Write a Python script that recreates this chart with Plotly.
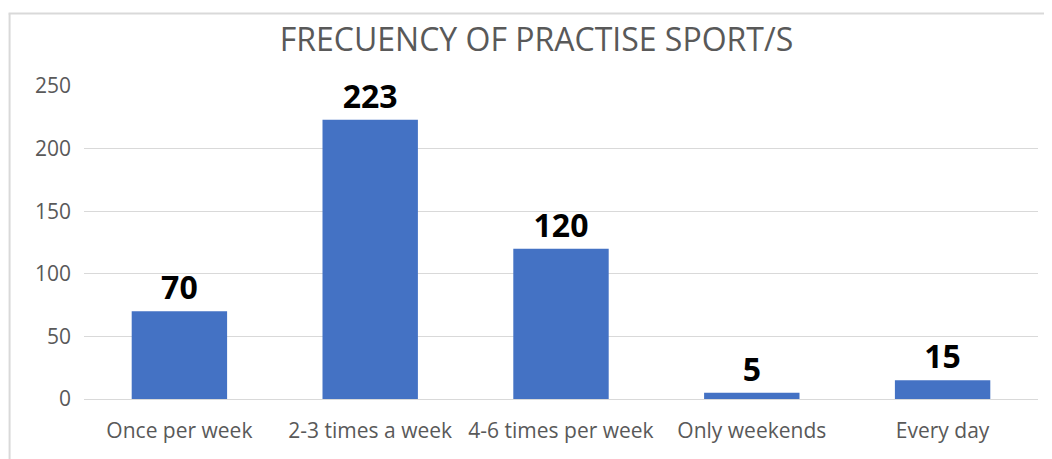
import plotly.graph_objects as go

categories = ["Once per week", "2-3 times a week", "4-6 times per week", "Only weekends", "Every day"]
values = [70, 223, 120, 5, 15]
y_ticks = [0, 50, 100, 150, 200, 250]
title_text = "FRECUENCY OF PRACTISE SPORT/S"

# page body has an 8px margin; work in figure coordinates
OFF = 8
W, H = 1052 - OFF, 459 - OFF
ml, mr, mt, mb = 83.5 - OFF, 13.5, 86 - OFF, 60
pw, ph = W - ml - mr, H - mt - mb

fig = go.Figure(go.Bar(
    x=categories, y=values,
    marker=dict(color="#4472C4", line=dict(width=0)),
    text=[str(v) for v in values],
    textposition="outside",
    constraintext="none",
    cliponaxis=False,
    textfont=dict(family="Open Sans", size=32, color="#000000", weight="bold"),
))

def px2x(px):
    return (px - OFF - ml) / pw

def py2y(py):
    return (H - mb - (py - OFF)) / ph

fig.update_layout(
    width=W, height=H,
    margin=dict(l=ml, r=mr, t=mt, b=mb, autoexpand=False),
    paper_bgcolor="white", plot_bgcolor="white",
    bargap=0.5,
    showlegend=False,
    title=dict(text=title_text, x=(536.5 - OFF) / W, xref="container", xanchor="center",
               y=1 - (40 - OFF) / H, yref="container", yanchor="middle",
               font=dict(family="Open Sans", size=32, color="#595959")),
    font=dict(family="Open Sans", color="#595959"),
    xaxis=dict(showgrid=False, showline=True, linecolor="#d9d9d9", linewidth=1,
               ticks="", tickfont=dict(size=21, color="#595959"), ticklabelstandoff=13,
               zeroline=False),
    yaxis=dict(range=[0, 250], tickvals=y_ticks, showgrid=True, gridcolor="#d9d9d9",
               gridwidth=1, zeroline=False, showline=False, ticks="",
               tickfont=dict(size=21, color="#595959"), ticklabelstandoff=12),
    shapes=[
        dict(type="line", xref="paper", yref="paper", x0=px2x(8), x1=px2x(1060),
             y0=py2y(13.5), y1=py2y(13.5), line=dict(color="#d9d9d9", width=2)),
        dict(type="line", xref="paper", yref="paper", x0=px2x(9), x1=px2x(9),
             y0=py2y(13.5), y1=py2y(470), line=dict(color="#d9d9d9", width=2)),
    ],
)

fig.write_html("out.html")
